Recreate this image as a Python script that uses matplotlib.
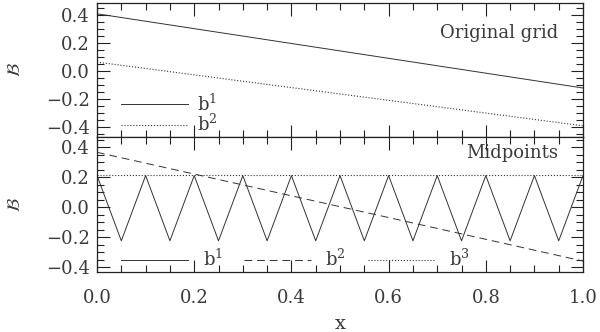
import numpy as np
import matplotlib.pyplot as plt
from matplotlib.ticker import MultipleLocator

# top panel: original grid
x_orig = [0.0, 1.0]
b1_orig = [0.41, -0.12]
b2_orig = [0.065, -0.39]

# bottom panel: midpoints
x_mid = [0.0, 0.05, 0.1, 0.15, 0.2, 0.25, 0.3, 0.35, 0.4, 0.45, 0.5,
         0.55, 0.6, 0.65, 0.7, 0.75, 0.8, 0.85, 0.9, 0.95, 1.0]
b1_mid = [0.21, -0.225, 0.21, -0.225, 0.21, -0.225, 0.21, -0.225, 0.21, -0.225, 0.21,
          -0.225, 0.21, -0.225, 0.21, -0.225, 0.21, -0.225, 0.21, -0.225, 0.21]
x_line = [0.0, 1.0]
b2_mid = [0.365, -0.36]
b3_mid = [0.215, 0.215]

plt.rcParams['font.family'] = ['DejaVu Serif']
plt.rcParams['mathtext.fontset'] = 'dejavuserif'
TXT = '#3a3a3a'
LC = '#333333'
FS = 13

fig = plt.figure(figsize=(6.0, 3.32), dpi=100)
ax1 = fig.add_axes([0.1617, 0.5873, 0.81, 0.4036])
ax2 = fig.add_axes([0.1617, 0.1807, 0.81, 0.4066])


def style(ax):
    ax.set_xlim(0, 1)
    ax.xaxis.set_major_locator(MultipleLocator(0.2))
    ax.xaxis.set_minor_locator(MultipleLocator(0.05))
    ax.yaxis.set_major_locator(MultipleLocator(0.2))
    ax.yaxis.set_minor_locator(MultipleLocator(0.05))
    ax.tick_params(which='both', direction='in', top=True, right=True,
                   colors='#222222', labelcolor=TXT, labelsize=FS, width=0.8)
    ax.tick_params(which='major', length=9, pad=5)
    ax.tick_params(which='minor', length=5)
    ax.tick_params(axis='x', which='major', pad=12)
    for s in ax.spines.values():
        s.set_linewidth(0.9)
        s.set_color('#222222')
    ax.set_ylabel(r'$\mathcal{B}$', color=TXT, fontsize=FS, labelpad=16)
    ax.yaxis.set_major_formatter(plt.FuncFormatter(
        lambda v, p: ('\u2212%.1f' % abs(v)) if v < -1e-9 else '%.1f' % abs(v)))


style(ax1)
ax1.set_ylim(-0.47, 0.487)
ax1.plot(x_orig, b1_orig, '-', color=LC, lw=0.7, label='b$^1$')
ax1.plot(x_orig, b2_orig, ':', color=LC, lw=0.8, label='b$^2$')
ax1.tick_params(labelbottom=False)
ax1.text(0.949, 0.78, 'Original grid', transform=ax1.transAxes, ha='right',
         va='center', fontsize=FS, color=TXT)
ax1.legend(loc='lower left', frameon=False, fontsize=FS, handlelength=3.7,
           labelspacing=-0.02, borderaxespad=0.0, bbox_to_anchor=(0.035, -0.04),
           handletextpad=0.5, labelcolor=TXT)

style(ax2)
ax2.set_ylim(-0.433, 0.467)
ax2.plot(x_mid, b1_mid, '-', color=LC, lw=0.7, label='b$^1$')
ax2.plot(x_line, b2_mid, '--', color=LC, lw=0.7, dashes=(8, 5), label='b$^2$')
ax2.plot(x_line, b3_mid, ':', color=LC, lw=0.8, label='b$^3$')
ax2.text(0.949, 0.88, 'Midpoints', transform=ax2.transAxes, ha='right',
         va='center', fontsize=FS, color=TXT)
ax2.legend(loc='lower left', frameon=False, fontsize=FS, ncol=3,
           handlelength=3.7, columnspacing=1.2, borderaxespad=0.0,
           bbox_to_anchor=(0.035, -0.04), handletextpad=0.8, labelcolor=TXT)
ax2.set_xlabel('x', color=TXT, fontsize=14, labelpad=6)

fig.savefig('out.png', dpi=100)
